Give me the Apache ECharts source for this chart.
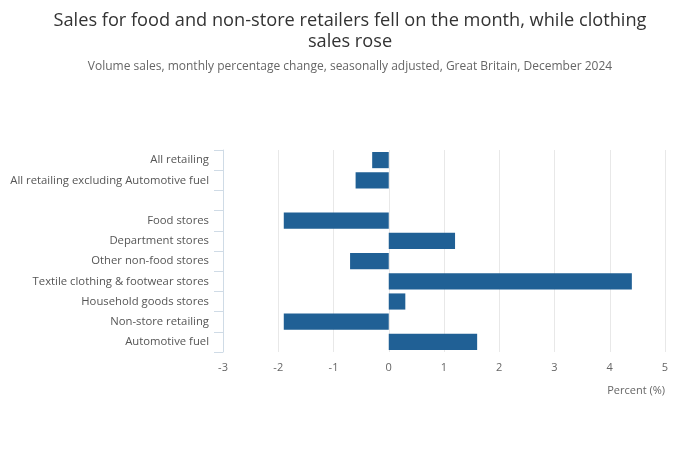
<!DOCTYPE html>
<html>
<head>
<meta charset="utf-8">
<script src="https://cdn.jsdelivr.net/npm/echarts@6/dist/echarts.min.js"></script>
<style>html,body{margin:0;padding:0;background:#fff;}#c{width:700px;height:450px;}</style>
</head>
<body>
<div id="c"></div>
<script>
const categories = ["All retailing", "All retailing excluding Automotive fuel", "", "Food stores", "Department stores", "Other non-food stores", "Textile clothing & footwear stores", "Household goods stores", "Non-store retailing", "Automotive fuel"];
const values = [-0.3, -0.6, null, -1.9, 1.2, -0.7, 4.4, 0.3, -1.9, 1.6];
const xTicks = { min: -3, max: 5, interval: 1 };

const chart = echarts.init(document.getElementById('c'), null, { renderer: 'canvas' });
chart.setOption({
  animation: false,
  backgroundColor: '#ffffff',
  title: {
    text: 'Sales for food and non-store retailers fell on the month, while clothing\nsales rose',
    subtext: 'Volume sales, monthly percentage change, seasonally adjusted, Great Britain, December 2024',
    left: 'center',
    top: 5,
    itemGap: 9,
    textStyle: { fontFamily: 'Open Sans', fontSize: 18.2, fontWeight: 'normal', color: '#333333', lineHeight: 21 },
    subtextStyle: { fontFamily: 'Open Sans', fontSize: 12, color: '#666666' }
  },
  grid: { left: 223, right: 35, top: 150, bottom: 98, containLabel: false },
  xAxis: {
    type: 'value',
    min: xTicks.min, max: xTicks.max, interval: xTicks.interval,
    axisLine: { show: false },
    axisTick: { show: false },
    splitLine: { show: true, lineStyle: { color: '#e8e8e8', width: 1 } },
    axisLabel: { fontFamily: 'Open Sans', fontSize: 11, color: '#666666', margin: 10 },
    name: 'Percent (%)',
    nameLocation: 'end',
    nameGap: 0,
    nameTextStyle: { fontFamily: 'Open Sans', fontSize: 11, color: '#666666', align: 'right', verticalAlign: 'top', padding: [33, 0, 0, 0] }
  },
  yAxis: {
    type: 'category',
    data: categories,
    inverse: true,
    axisLine: { show: true, onZero: false, lineStyle: { color: '#cfdbe6', width: 1 } },
    axisTick: { show: true, length: 9, lineStyle: { color: '#cfdbe6' } },
    axisLabel: { fontFamily: 'Open Sans', fontSize: 11.3, color: '#555555', margin: 14, padding: [6, 0, 0, 0] },
    splitLine: { show: false }
  },
  series: [{
    type: 'bar',
    data: values,
    barWidth: '80%',
    itemStyle: { color: '#206095' }
  }]
});
</script>
</body>
</html>
